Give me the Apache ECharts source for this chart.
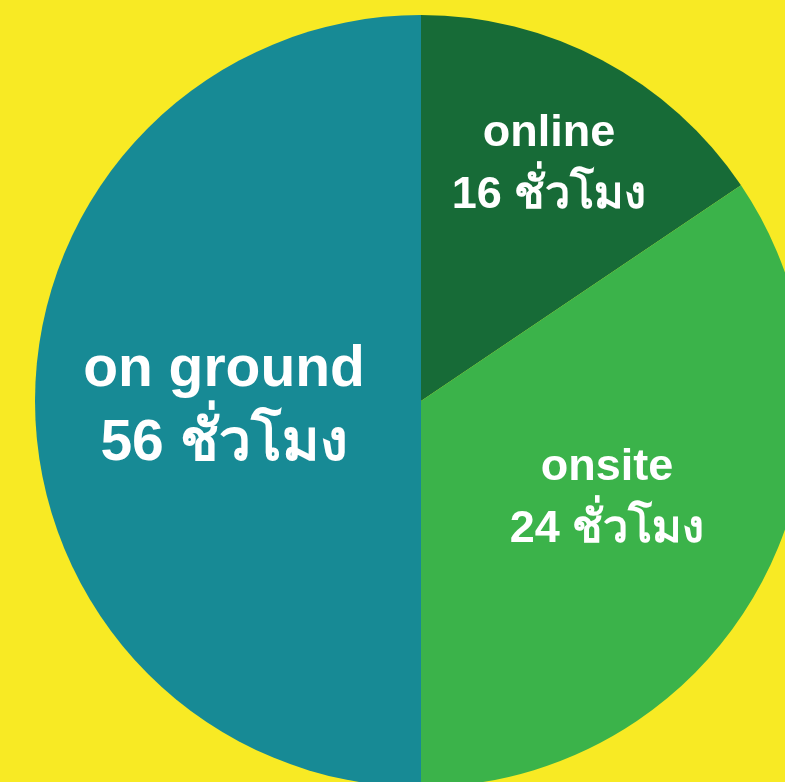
<!DOCTYPE html>
<html>
<head>
<meta charset="utf-8">
<script src="https://cdn.jsdelivr.net/npm/echarts@6/dist/echarts.min.js"></script>
<style>
html,body{margin:0;padding:0;background:#f8ea24;}
#chart{width:785px;height:782px;}
</style>
</head>
<body>
<div id="chart"></div>
<script>
// Categories and their stated hours (as printed in the labels)
const categories = ['online', 'onsite', 'on ground'];
const hours = [16, 24, 56];
const unit = 'ชั่วโมง';
// Slice sizes as drawn in the picture (share of the circle, in degrees)
const sliceShares = [56, 124, 180];
const colors = ['#176b37', '#3bb34a', '#178a95'];

const chart = echarts.init(document.getElementById('chart'));
const labelShift = [[36, -63], [13, 6], [-1, 6]];
const fontSizes = [45, 45, 57];
const lineHeights = [62, 62, 74];

chart.setOption({
  backgroundColor: '#f8ea24',
  animation: false,
  series: [{
    type: 'pie',
    center: [421, 401],
    radius: [0, 386],
    startAngle: 90,
    clockwise: true,
    avoidLabelOverlap: false,
    labelLine: {show: false},
    emphasis: {disabled: true},
    data: categories.map((c, i) => ({
      name: c,
      value: sliceShares[i],
      itemStyle: {color: colors[i]},
      label: {
        show: true,
        position: 'inside',
        formatter: c + '\n' + hours[i] + ' ' + unit,
        color: '#ffffff',
        fontFamily: 'Liberation Sans, Arial, sans-serif',
        fontWeight: 'bold',
        fontSize: fontSizes[i],
        lineHeight: lineHeights[i],
        align: 'center'
      }
    })),
    labelLayout: function (p) {
      const s = labelShift[p.dataIndex];
      return {dx: s[0], dy: s[1]};
    }
  }]
});
</script>
</body>
</html>
